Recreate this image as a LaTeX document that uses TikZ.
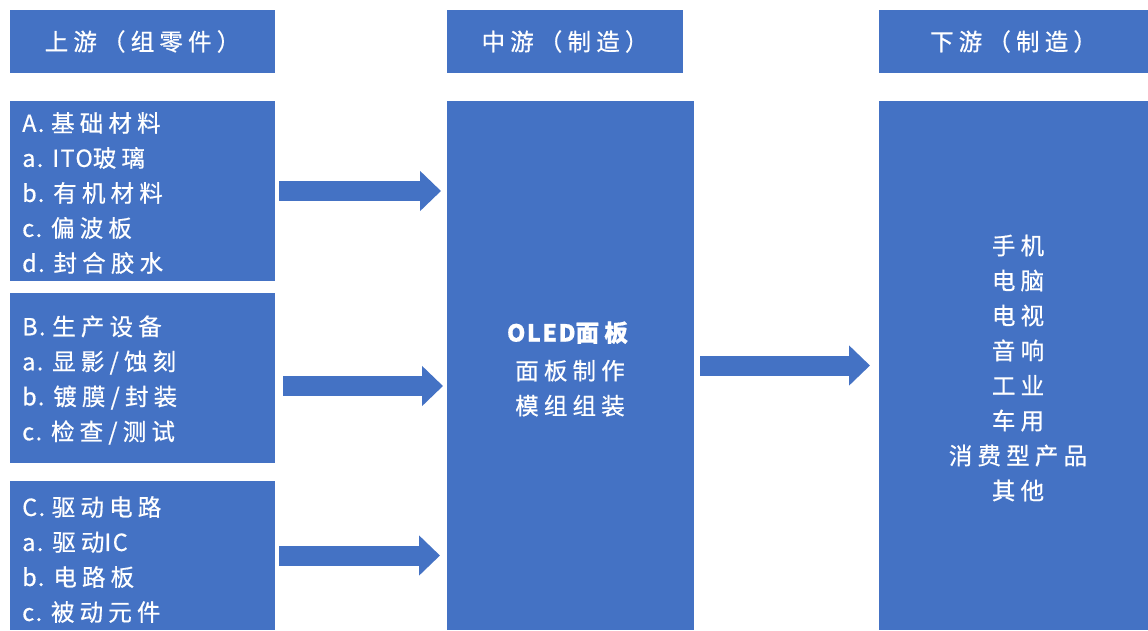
\documentclass[tikz,border=0pt]{standalone}
\usepackage{fontspec}
\setmainfont{Noto Sans CJK SC}[LetterSpace=22,FakeBold=0.6]
\newfontfamily\lat{Noto Sans CJK SC}[LetterSpace=6,FakeBold=0.6]
\usetikzlibrary{arrows.meta}
\definecolor{oblue}{HTML}{4472C4}
\begin{document}
\begin{tikzpicture}[x=1pt,y=-1pt,
  box/.style={fill=oblue, draw=none, inner sep=0pt, outer sep=0pt, anchor=north west, text=white},
  txt/.style={text=white, inner sep=0pt, font=\fontsize{23.5}{35}\selectfont},
  bigarrow/.style={draw=oblue, line width=20pt, -{Triangle[length=21pt,width=39pt,fill=oblue]}}]
\useasboundingbox (0,0) rectangle (1148,630);
% headers
\node[box, minimum width=265pt, minimum height=63pt, font=\fontsize{23.5}{26}\selectfont] (h1) at (10,10) {上游（组零件）};
\node[box, minimum width=236pt, minimum height=63pt, font=\fontsize{23.5}{26}\selectfont] (h2) at (447,10) {中游（制造）};
\node[box, minimum width=269pt, minimum height=63pt, font=\fontsize{23.5}{26}\selectfont] (h3) at (879,10) {下游（制造）};
% left boxes
\node[box, minimum width=265pt, minimum height=180pt] (A) at (10,101) {};
\node[box, minimum width=265pt, minimum height=170pt] (B) at (10,293) {};
\node[box, minimum width=265pt, minimum height=149pt] (C) at (10,481) {};
% middle and right
\node[box, minimum width=247pt, minimum height=529pt] (M) at (447,101) {};
\node[box, minimum width=269pt, minimum height=529pt] (R) at (879,101) {};
% texts
\node[txt, align=left, anchor=west] (At) at ([xshift=12pt,yshift=-2pt]A.west)
  {{\lat A. }基础材料\\{\lat a. ITO}玻璃\\{\lat b. }有机材料\\{\lat c. }偏波板\\{\lat d. }封合胶水};
\node[txt, align=left, anchor=west] (Bt) at ([xshift=12pt,yshift=-2pt]B.west)
  {{\lat B. }生产设备\\{\lat a. }显影/蚀刻\\{\lat b. }镀膜/封装\\{\lat c. }检查/测试};
\node[txt, align=left, anchor=west] (Ct) at ([xshift=12pt,yshift=-4pt]C.west)
  {{\lat C. }驱动电路\\{\lat a. }驱动{\lat IC}\\{\lat b. }电路板\\{\lat c. }被动元件};
\node[txt, align=center] (Mt) at (570,369)
  {\textbf{{\lat OLED}面板}\\[3pt]面板制作\\模组组装};
\node[txt, align=center] (Rt) at (1018,368)
  {手机\\电脑\\电视\\音响\\工业\\车用\\消费型产品\\其他};
% arrows
\draw[bigarrow] ([xshift=4pt]A.east) -- ([xshift=-6pt]A.east -| M.west);
\draw[bigarrow] ([xshift=8pt,yshift=-8pt]B.east) -- ([xshift=-4pt,yshift=-8pt]B.east -| M.west);
\draw[bigarrow] ([xshift=4pt]C.east) -- ([xshift=-7pt]C.east -| M.west);
\draw[bigarrow] ([xshift=6pt]M.east) -- ([xshift=-9pt]M.east -| R.west);
\end{tikzpicture}
\end{document}
